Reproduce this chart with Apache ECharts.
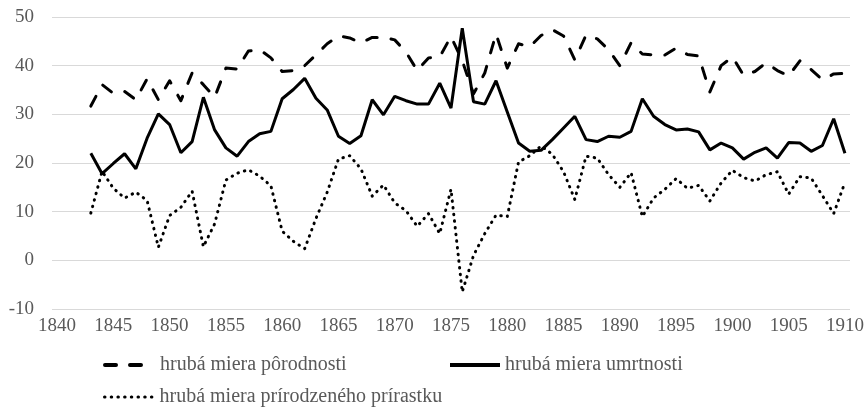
<!DOCTYPE html>
<html>
<head>
<meta charset="utf-8">
<script src="https://cdn.jsdelivr.net/npm/echarts@6/dist/echarts.min.js"></script>
<style>
  html, body { margin: 0; padding: 0; background: #ffffff; }
  #chart { width: 866px; height: 408px; }
</style>
</head>
<body>
<div id="chart"></div>
<script>
// years 1843 .. 1910
const years = [
   1843, 1844, 1845, 1846, 1847, 1848, 1849, 1850, 1851, 1852,
   1853, 1854, 1855, 1856, 1857, 1858, 1859, 1860, 1861, 1862,
   1863, 1864, 1865, 1866, 1867, 1868, 1869, 1870, 1871, 1872,
   1873, 1874, 1875, 1876, 1877, 1878, 1879, 1880, 1881, 1882,
   1883, 1884, 1885, 1886, 1887, 1888, 1889, 1890, 1891, 1892,
   1893, 1894, 1895, 1896, 1897, 1898, 1899, 1900, 1901, 1902,
   1903, 1904, 1905, 1906, 1907, 1908, 1909, 1910
];

// hrubá miera pôrodnosti
const birthRate = [
   31.7, 36.1, 34.3, 34.7, 33.0, 37.3, 33.0, 36.9, 32.8, 38.5,
   36.1, 33.5, 39.5, 39.3, 43.0, 43.3, 41.6, 38.8, 39.0, 40.0,
   42.2, 44.5, 46.1, 45.7, 44.7, 45.8, 45.8, 45.3, 42.8, 39.0,
   41.6, 41.8, 46.0, 41.0, 34.2, 38.5, 46.5, 39.5, 44.5, 43.9,
   46.2, 47.4, 46.1, 41.2, 46.3, 45.5, 43.3, 40.0, 44.7, 42.4,
   42.2, 42.2, 43.6, 42.3, 42.0, 34.6, 40.0, 41.8, 38.0, 38.8,
   40.6, 39.0, 37.9, 41.0, 39.2, 37.1, 38.3, 38.4
];

// hrubá miera umrtnosti
const deathRate = [
   22.0, 17.8, 19.9, 21.9, 18.8, 25.1, 30.1, 27.9, 22.1, 24.4,
   33.5, 26.8, 23.1, 21.4, 24.4, 26.0, 26.5, 33.2, 35.1, 37.4,
   33.3, 30.9, 25.5, 24.0, 25.6, 33.0, 29.9, 33.7, 32.8, 32.1,
   32.1, 36.4, 31.3, 47.7, 32.6, 32.1, 36.9, 30.5, 24.1, 22.4,
   22.6, 24.8, 27.2, 29.6, 24.8, 24.4, 25.5, 25.3, 26.5, 33.2,
   29.6, 27.9, 26.8, 27.0, 26.4, 22.7, 24.1, 23.1, 20.8, 22.2,
   23.1, 21.0, 24.2, 24.1, 22.4, 23.6, 29.1, 22.0
];

// hrubá miera prírodzeného prírastku
const naturalRate = [
    9.7, 18.3, 14.8, 12.8, 14.0, 12.3,  2.7,  9.2, 10.9, 14.2,
    2.8,  7.5, 16.5, 17.9, 18.6, 17.3, 15.3,  6.0,  3.9,  2.4,
    8.6, 14.0, 20.8, 21.5, 18.8, 13.2, 15.5, 11.8, 10.2,  7.0,
    9.6,  5.5, 14.6, -6.5,  1.0,  5.5,  9.3,  9.0, 20.2, 21.5,
   23.5, 21.8, 18.2, 12.5, 21.4, 21.0, 17.6, 15.0, 18.0,  9.0,
   12.8, 14.6, 16.8, 14.8, 15.4, 12.2, 15.9, 18.5, 17.0, 16.3,
   17.6, 18.2, 13.6, 17.2, 16.9, 13.3,  9.6, 16.0
];

const xTickLabels = [1840, 1845, 1850, 1855, 1860, 1865, 1870, 1875, 1880, 1885, 1890, 1895, 1900, 1905, 1910];

const seriesNames = [
   'hrubá miera pôrodnosti',
   'hrubá miera umrtnosti',
   'hrubá miera prírodzeného prírastku'
];

function pairs(vals)
{
   return years.map((y, i) => [y, vals[i]]);
}

const textColor = '#595959';
const fontFam = '"Liberation Serif", "Times New Roman", serif';

const chart = echarts.init(document.getElementById('chart'), null, { renderer: 'canvas' });

function legendAt(name, left, top, width, lw)
{
   return {
      data: [name],
      left: left,
      top: top,
      orient: 'horizontal',
      itemWidth: width,
      itemHeight: 14,
      padding: 0,
      selectedMode: false,
      // hide the circle the line legend icon puts in the middle
      itemStyle: { opacity: 0 },
      lineStyle: { width: lw },
      textStyle: { color: textColor, fontFamily: fontFam, fontSize: 20 }
   };
}

const option =
{
   animation: false,
   backgroundColor: '#ffffff',
   grid:
   {
      left: 52,
      right: 16,
      top: 17,
      height: 292,
      outerBoundsMode: 'none'
   },
   legend:
   [
      legendAt(seriesNames[0], 103, 355, 50, 4),
      legendAt(seriesNames[1], 448, 355, 50, 4),
      legendAt(seriesNames[2], 103, 387, 50, 3)
   ],
   xAxis:
   {
      type: 'value',
      min: 1839.55,
      max: 1910.45,
      axisLine: { show: false },
      axisTick: { show: false },
      splitLine: { show: false },
      axisLabel:
      {
         customValues: xTickLabels,
         color: textColor,
         fontFamily: fontFam,
         fontSize: 19,
         margin: 8,
         formatter: v => String(v)
      }
   },
   yAxis:
   {
      type: 'value',
      min: -10,
      max: 50,
      interval: 10,
      axisLine: { show: false },
      axisTick: { show: false },
      splitLine: { lineStyle: { color: '#d9d9d9', width: 1 } },
      axisLabel:
      {
         color: textColor,
         fontFamily: fontFam,
         fontSize: 19,
         margin: 18
      }
   },
   series:
   [
      {
         name: seriesNames[0],
         type: 'line',
         data: pairs(birthRate),
         symbol: 'none',
         color: '#000000',
         lineStyle: { color: '#000000', width: 3, type: [11, 14], cap: 'round', join: 'round' }
      },
      {
         name: seriesNames[1],
         type: 'line',
         data: pairs(deathRate),
         symbol: 'none',
         color: '#000000',
         lineStyle: { color: '#000000', width: 3, type: 'solid' }
      },
      {
         name: seriesNames[2],
         type: 'line',
         data: pairs(naturalRate),
         symbol: 'none',
         color: '#000000',
         lineStyle: { color: '#000000', width: 3, type: [0.5, 6.2], cap: 'round', join: 'round' }
      }
   ]
};

chart.setOption(option);
</script>
</body>
</html>
